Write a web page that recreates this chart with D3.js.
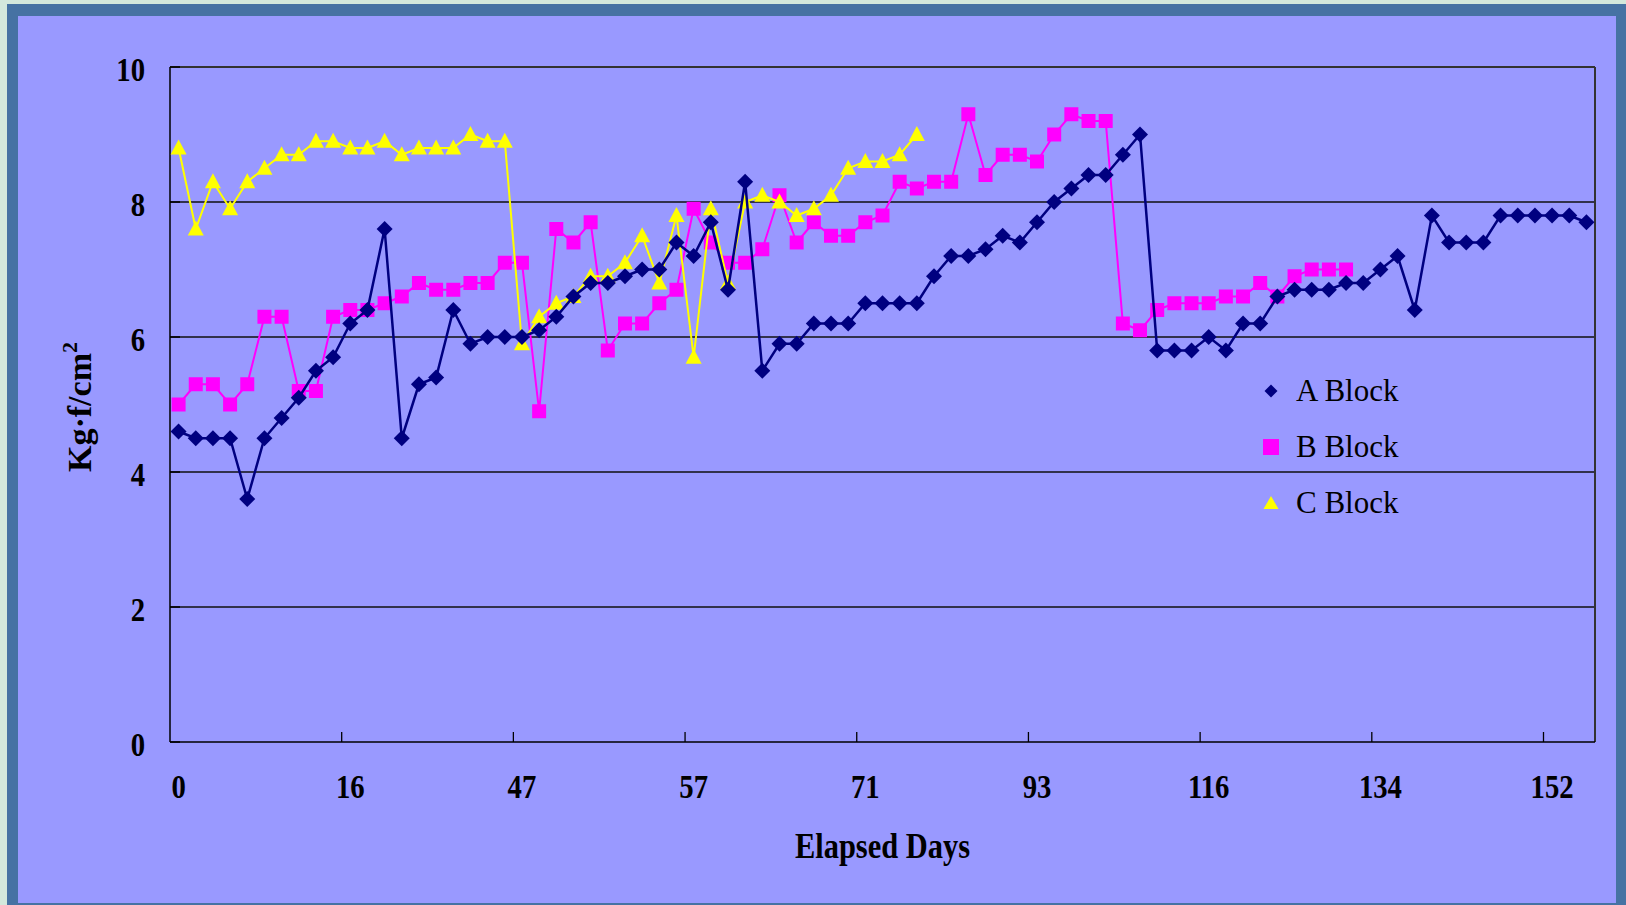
<!DOCTYPE html>
<html lang="en">
<head>
<meta charset="UTF-8">
<title>Elapsed Days</title>
<script src="https://d3js.org/d3.v7.min.js"></script>
<style>
  body { margin: 0; background: #d3e8dc; }
  svg { display: block; }
</style>
</head>
<body>
<svg id="chart" width="1626" height="905"></svg>
<script>
// tick labels under every 10th category
const xLabels = ["0", "16", "47", "57", "71", "93", "116", "134", "152"]
const labelEvery = 10
const yTicks = [0, 2, 4, 6, 8, 10]
const seriesNames = ["A Block", "B Block", "C Block"]

const aBlock = [4.6, 4.5, 4.5, 4.5, 3.6, 4.5, 4.8, 5.1, 5.5, 5.7, 6.2, 6.4, 7.6, 4.5, 5.3, 5.4,
  6.4, 5.9, 6.0, 6.0, 6.0, 6.1, 6.3, 6.6, 6.8, 6.8, 6.9, 7.0, 7.0, 7.4, 7.2,
  7.7, 6.7, 8.3, 5.5, 5.9, 5.9, 6.2, 6.2, 6.2, 6.5, 6.5, 6.5, 6.5, 6.9, 7.2,
  7.2, 7.3, 7.5, 7.4, 7.7, 8.0, 8.2, 8.4, 8.4, 8.7, 9.0, 5.8, 5.8, 5.8, 6.0,
  5.8, 6.2, 6.2, 6.6, 6.7, 6.7, 6.7, 6.8, 6.8, 7.0, 7.2, 6.4, 7.8, 7.4, 7.4, 7.4, 7.8, 7.8, 7.8, 7.8, 7.8, 7.7]

const bBlock = [5.0, 5.3, 5.3, 5.0, 5.3, 6.3, 6.3, 5.2, 5.2, 6.3, 6.4, 6.4, 6.5, 6.6, 6.8, 6.7,
  6.7, 6.8, 6.8, 7.1, 7.1, 4.9, 7.6, 7.4, 7.7, 5.8, 6.2, 6.2, 6.5, 6.7, 7.9,
  7.4, 7.1, 7.1, 7.3, 8.1, 7.4, 7.7, 7.5, 7.5, 7.7, 7.8, 8.3, 8.2, 8.3, 8.3,
  9.3, 8.4, 8.7, 8.7, 8.6, 9.0, 9.3, 9.2, 9.2, 6.2, 6.1, 6.4, 6.5, 6.5, 6.5,
  6.6, 6.6, 6.8, 6.6, 6.9, 7.0, 7.0, 7.0]

const cBlock = [8.8, 7.6, 8.3, 7.9, 8.3, 8.5, 8.7, 8.7, 8.9, 8.9, 8.8, 8.8, 8.9, 8.7, 8.8, 8.8,
  8.8, 9.0, 8.9, 8.9, 5.9, 6.3, 6.5, 6.6, 6.9, 6.9, 7.1, 7.5, 6.8, 7.8, 5.7,
  7.9, 6.8, 8.0, 8.1, 8.0, 7.8, 7.9, 8.1, 8.5, 8.6, 8.6, 8.7, 9.0]

const nCats = aBlock.length

const svg = d3.select("#chart")
const font = "'Liberation Serif', 'Times New Roman', serif"
const squeeze = 0.87

// frame
svg.append("rect").attr("x", 7).attr("y", 4).attr("width", 1619).attr("height", 901).attr("fill", "#4672a3")
svg.append("rect").attr("x", 18).attr("y", 16).attr("width", 1598).attr("height", 887).attr("fill", "#9999ff")

const plotLeft = 170, plotRight = 1595, plotTop = 67, plotBottom = 742

const x = d3.scaleBand()
  .domain(d3.range(nCats))
  .range([plotLeft, plotRight])
  .padding(0)

const y = d3.scaleLinear()
  .domain([0, 10])
  .range([plotBottom, plotTop])

// gridlines
svg.append("g")
  .selectAll("line")
  .data(yTicks.filter(d => d > 0))
  .enter()
  .append("line")
  .attr("x1", plotLeft).attr("x2", plotRight)
  .attr("y1", d => y(d)).attr("y2", d => y(d))
  .attr("stroke", d => d === 10 ? "#333" : "#111")
  .attr("stroke-width", d => d === 10 ? 2 : 1.3)

// right border
svg.append("line")
  .attr("x1", plotRight).attr("x2", plotRight).attr("y1", plotTop).attr("y2", plotBottom)
  .attr("stroke", "#333").attr("stroke-width", 2)

// axes lines
svg.append("line").attr("x1", plotLeft).attr("x2", plotLeft).attr("y1", plotTop).attr("y2", plotBottom)
  .attr("stroke", "#000").attr("stroke-width", 1.5)
svg.append("line").attr("x1", plotLeft).attr("x2", plotRight).attr("y1", plotBottom).attr("y2", plotBottom)
  .attr("stroke", "#000").attr("stroke-width", 1.5)

// y ticks (inside) and labels
svg.append("g").selectAll("line").data(yTicks).enter().append("line")
  .attr("x1", plotLeft).attr("x2", plotLeft + 10)
  .attr("y1", d => y(d)).attr("y2", d => y(d))
  .attr("stroke", "#000").attr("stroke-width", 1.5)

svg.append("g").selectAll("text").data(yTicks).enter().append("text")
  .attr("transform", d => `translate(145, ${y(d) + 14}) scale(${squeeze},1)`)
  .attr("text-anchor", "end")
  .attr("font-family", font).attr("font-weight", "bold").attr("font-size", 33)
  .text(d => d)

// x ticks between categories, every 10
const tickCats = d3.range(labelEvery, nCats, labelEvery)
svg.append("g").selectAll("line").data(tickCats).enter().append("line")
  .attr("x1", d => x(d)).attr("x2", d => x(d))
  .attr("y1", plotBottom).attr("y2", plotBottom - 10)
  .attr("stroke", "#000").attr("stroke-width", 1.3)

svg.append("g").selectAll("text").data(xLabels).enter().append("text")
  .attr("transform", (d, i) => `translate(${x(i * labelEvery) + x.bandwidth() / 2}, 798) scale(${squeeze},1)`)
  .attr("text-anchor", "middle")
  .attr("font-family", font).attr("font-weight", "bold").attr("font-size", 33)
  .text(d => d)

// axis titles
svg.append("text")
  .attr("transform", `translate(${(plotLeft + plotRight) / 2}, 858) scale(${squeeze},1)`)
  .attr("text-anchor", "middle")
  .attr("font-family", font).attr("font-weight", "bold").attr("font-size", 35)
  .text("Elapsed Days")

const yTitle = svg.append("text")
  .attr("transform", "translate(91, 407) rotate(-90)")
  .attr("text-anchor", "middle")
  .attr("font-family", font).attr("font-weight", "bold").attr("font-size", 34)
yTitle.append("tspan").text("Kg·f/cm")
yTitle.append("tspan").attr("font-size", 22).attr("dy", -14).text("2")

// markers
const shapes = {
  diamond: "M0,-8L8,0L0,8L-8,0Z",
  square: "M-7,-7H7V7H-7Z",
  triangle: "M0,-8.5L8,6.5L-8,6.5Z"
}

const series = [
  { name: seriesNames[1], values: bBlock, color: "#ff00ff", shape: shapes.square, width: 2 },
  { name: seriesNames[2], values: cBlock, color: "#ffff00", shape: shapes.triangle, width: 2 },
  { name: seriesNames[0], values: aBlock, color: "#000080", shape: shapes.diamond, width: 2.5 }
]

const line = d3.line()
  .x((d, i) => x(i) + x.bandwidth() / 2)
  .y(d => y(d))

series.forEach(s => {
  const g = svg.append("g")
  g.append("path")
    .attr("d", line(s.values))
    .attr("fill", "none")
    .attr("stroke", s.color)
    .attr("stroke-width", s.width)
  g.selectAll("path.m")
    .data(s.values)
    .enter()
    .append("path")
    .attr("class", "m")
    .attr("d", s.shape)
    .attr("transform", (d, i) => `translate(${x(i) + x.bandwidth() / 2}, ${y(d)})`)
    .attr("fill", s.color)
})

// legend
const legend = [
  { name: seriesNames[0], color: "#000080", shape: "M0,-6.5L6.5,0L0,6.5L-6.5,0Z" },
  { name: seriesNames[1], color: "#ff00ff", shape: "M-8,-8H8V8H-8Z" },
  { name: seriesNames[2], color: "#ffff00", shape: "M0,-7L7.5,6L-7.5,6Z" }
]
const lg = svg.append("g").selectAll("g").data(legend).enter().append("g")
  .attr("transform", (d, i) => `translate(1271, ${391 + i * 56})`)
lg.append("path").attr("d", d => d.shape).attr("fill", d => d.color)
lg.append("text")
  .attr("x", 25).attr("y", 10)
  .attr("font-family", font).attr("font-size", 31)
  .text(d => d.name)
</script>
</body>
</html>
